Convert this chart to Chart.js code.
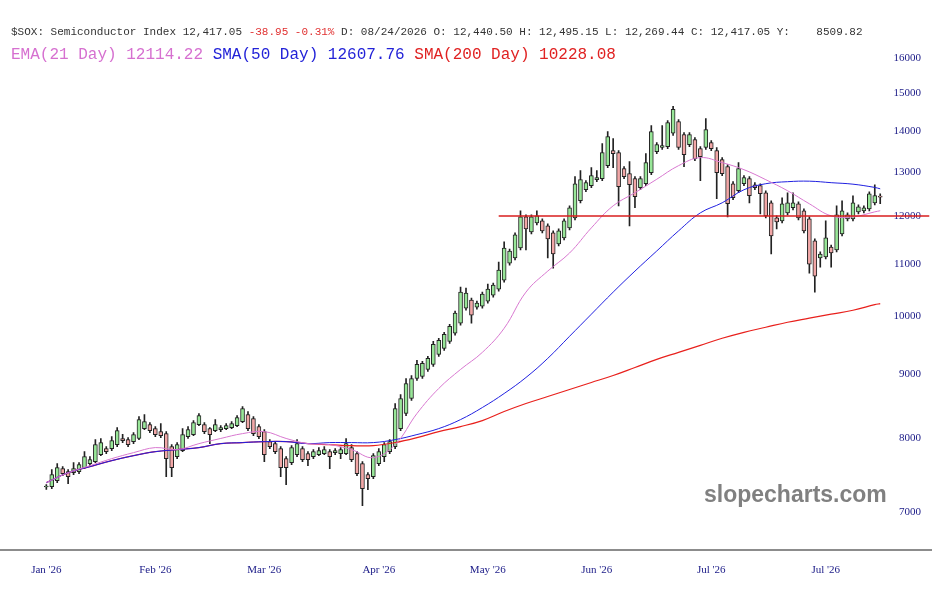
<!DOCTYPE html>
<html>
<head>
<meta charset="utf-8">
<script src="https://cdn.jsdelivr.net/npm/chart.js@4.4.1/dist/chart.umd.min.js"></script>
<style>
  html, body { margin: 0; padding: 0; background: #fff; }
  #wrap { position: relative; width: 932px; height: 589px; }
  #hdr1 { position: absolute; left: 11px; top: 26px; font: 11px "Liberation Mono", monospace; color: #333; white-space: pre; }
  #hdr2 { position: absolute; left: 11px; top: 46px; font: 16px "Liberation Mono", monospace; white-space: pre; }
  #mark { position: absolute; left: 704px; top: 481px; font: bold 23px "Liberation Sans", sans-serif; color: #808080; }
</style>
</head>
<body>
<div id="wrap">
  <canvas id="myChart"></canvas>
  <div id="hdr1">$SOX: Semiconductor Index 12,417.05 <span style="color:#e03030">-38.95 -0.31%</span> D: 08/24/2026 O: 12,440.50 H: 12,495.15 L: 12,269.44 C: 12,417.05 Y:    8509.82</div>
  <div id="hdr2"><span style="color:#d670d0">EMA(21 Day) 12114.22</span> <span style="color:#2323d8">SMA(50 Day) 12607.76</span> <span style="color:#e02222">SMA(200 Day) 10228.08</span></div>
  <div id="mark">slopecharts.com</div>
</div>
<script>
// daily candles, Jan .. Aug 24 2026
const opens = [7325,7327,7408,7572,7530,7517,7530,7586,7641,7669,7767,7853,7853,7911,8000,7983,7954,8000,8145,8205,
  8145,8101,8071,7882,7739,7824,8027,8057,8205,8205,8145,8116,8130,8145,8160,8190,8250,8356,8296,8175,
  8101,7954,7925,7853,7711,7655,7767,7853,7781,7739,7767,7781,7810,7796,7781,7781,7868,7781,7641,7489,
  7462,7641,7739,7810,7882,8145,8372,8604,8924,8957,9072,9156,9324,9428,9549,9690,9869,10143,10293,10161,
  10180,10274,10387,10502,10677,11013,11115,11320,11980,11656,11850,11893,11785,11635,11403,11529,11742,11958,12336,12587,
  12680,12820,12843,13152,13518,13469,13080,12961,12843,12633,12726,12985,13494,13593,13617,13951,14254,13920,13667,13792,
  13568,13593,13717,13518,13297,13128,12726,12564,12726,12843,12703,12680,12518,12291,11958,11893,12068,12180,12269,12113,
  11937,11466,11115,11135,11340,11279,11614,11937,11937,12090,12113,12157,12291,12440.50];
const highs = [7355,7558,7641,7600,7558,7655,7655,7810,7739,7983,7998,7882,8027,8160,8060,8012,8085,8326,8356,8235,
  8175,8220,8101,7911,7940,8145,8175,8265,8372,8235,8160,8280,8190,8220,8250,8341,8479,8402,8326,8205,
  8130,7983,7954,7882,7739,7898,7983,7882,7810,7839,7868,7882,7839,7853,7868,8000,7911,7810,7669,7517,
  7781,7853,7940,7983,8526,8667,8924,8973,9223,9206,9290,9549,9602,9707,9851,10088,10541,10522,10330,10274,
  10445,10599,10618,11034,11445,11299,11635,12113,12024,12024,12113,11937,11828,11678,11721,11937,12224,12890,13032,12796,
  13104,13032,13692,13996,13818,13518,13128,13249,12890,12890,13444,14150,13717,14150,14280,14650,14306,13970,13970,13843,
  13617,14332,13767,13593,13346,13176,12773,13224,12914,12890,12750,12726,12564,12336,12002,12405,12518,12518,12313,12157,
  11980,11508,11238,11893,11382,12224,12336,12068,12450,12246,12224,12541,12703,12495.15];
const lows = [7290,7300,7380,7475,7367,7490,7503,7572,7613,7655,7753,7781,7824,7882,7940,7882,7925,7983,8130,8085,
  8027,8012,7462,7462,7711,7810,8000,8042,8190,8071,7925,8101,8101,8130,8145,8175,8235,8116,8042,7998,
  7669,7853,7781,7462,7354,7627,7739,7669,7613,7711,7753,7767,7572,7767,7711,7767,7669,7475,7077,7287,
  7434,7613,7669,7781,7853,8116,8341,8573,8891,8924,9039,9122,9290,9393,9514,9655,9833,10106,9869,10124,
  10143,10236,10349,10464,10638,10973,11075,11279,11279,11614,11807,11635,11115,10913,11361,11487,11700,11915,12291,12541,
  12633,12773,12796,13104,13104,12224,12843,11785,12180,12587,12680,12937,13444,13544,13568,13894,13544,13128,13617,13273,
  12796,13544,13518,12383,12914,11980,12360,12518,12680,12291,12587,12046,11958,11196,11721,11850,12024,12135,11915,11635,
  10813,10445,10933,11095,10933,11238,11571,11893,11893,12046,12068,12113,12246,12269.44];
const closes = [7335,7489,7586,7503,7462,7572,7627,7739,7697,7911,7940,7810,7969,8116,7969,7911,8057,8280,8250,8116,
  8057,8042,7711,7586,7911,8057,8130,8235,8341,8101,8057,8205,8160,8190,8220,8311,8448,8145,8071,8027,
  7767,7882,7810,7586,7586,7868,7925,7697,7697,7810,7824,7839,7739,7824,7839,7925,7697,7503,7300,7434,
  7753,7810,7911,7954,8448,8604,8842,8924,9156,9173,9257,9497,9567,9672,9815,10052,10445,10426,10015,10236,
  10407,10502,10580,10873,11320,11258,11592,11980,11721,11980,12002,11678,11508,11196,11678,11893,12180,12726,12820,12750,
  12914,12867,13469,13868,13444,12657,12890,12703,12427,12843,13224,13996,13667,13642,14228,14570,13593,13420,13920,13322,
  13371,14047,13568,12985,12961,12269,12405,13080,12867,12450,12633,12496,12002,11571,11871,12269,12291,12291,11958,11678,
  10993,10755,11196,11529,11217,12024,12113,12024,12291,12202,12180,12496,12456,12417.05];

// moving averages read at every 4th session
const maIdx = [0,4,8,12,16,20,24,28,32,36,40,44,48,52,56,60,64,68,72,76,80,84,88,92,96,100,104,108,112,116,120,124,128,132,136,140,144,148,152,153];
const ema21 = [7381,7516,7613,7711,7796,7868,7839,7925,8000,8071,8101,8000,7925,7911,7839,7725,7911,8372,8763,9072,
  9359,9779,10445,10853,11216,11742,12224,12518,12830,13152,13346,13224,13056,12820,12564,12269,12002,11980,12090,12114.22];
const sma50 = [7381,7516,7600,7683,7753,7810,7839,7868,7925,7940,7954,7954,7925,7940,7940,7940,7983,8057,8145,8280,
  8464,8683,8940,9257,9637,10033,10445,10853,11258,11678,12068,12291,12587,12726,12773,12785,12750,12715,12640,12607.76];
const sma200 = [7381,7516,7600,7683,7753,7810,7839,7868,7925,7940,7954,7954,7925,7911,7896,7896,7940,8012,8101,8175,
  8265,8402,8526,8635,8747,8859,8973,9105,9240,9359,9480,9602,9707,9797,9887,9960,10033,10106,10208,10228.08];

const levelValue = 12000;
const levelStart = 83;

const monthNames = ["Jan '26", "Feb '26", "Mar '26", "Apr '26", "May '26", "Jun '26", "Jul '26", "Jul '26"];
const monthIdx = [0, 20, 40, 61, 81, 101, 122, 143];
const yTicks = [7000, 8000, 9000, 10000, 11000, 12000, 13000, 14000, 15000, 16000];

const leadPad = 8;
const tailPad = 9;
const n = closes.length;

function pad(arr) {
  return [...Array(leadPad).fill(null), ...arr, ...Array(tailPad).fill(null)];
}
function sparse(idx, vals) {
  const out = Array(n).fill(null);
  for (let i = 0; i < idx.length; i++) {
    out[idx[i]] = vals[i];
  }
  return out;
}

let labels = [];
for (let i = 0; i < n + leadPad + tailPad; i++) {
  labels.push(i - leadPad);
}

let wicks = [];
let bodies = [];
let bodyColors = [];
for (let i = 0; i < n; i++) {
  wicks.push([lows[i], highs[i]]);
  bodies.push([opens[i], closes[i]]);
  bodyColors.push(closes[i] >= opens[i] ? '#98e698' : '#f2a7a7');
}

let level = [];
for (let i = 0; i < n + tailPad; i++) {
  level.push(i >= levelStart ? levelValue : null);
}

var ctx = document.getElementById('myChart').getContext('2d');
const chart = new Chart(ctx, {
  data: {
    labels: labels,
    datasets: [
      {
        type: 'line',
        data: [...Array(leadPad).fill(null), ...level],
        borderColor: '#d81e1e',
        borderWidth: 1.4,
        pointRadius: 0,
        order: 1
      },
      {
        type: 'line',
        data: pad(sparse(maIdx, ema21)),
        borderColor: '#d878d0',
        borderWidth: 1,
        pointRadius: 0,
        spanGaps: true,
        tension: 0.4,
        order: 1
      },
      {
        type: 'line',
        data: pad(sparse(maIdx, sma50)),
        borderColor: '#2020e0',
        borderWidth: 1,
        pointRadius: 0,
        spanGaps: true,
        tension: 0.4,
        order: 1
      },
      {
        type: 'line',
        data: pad(sparse(maIdx, sma200)),
        borderColor: '#e8201c',
        borderWidth: 1.2,
        pointRadius: 0,
        spanGaps: true,
        tension: 0.4,
        segment: {
          borderColor: (c) => c.p0DataIndex < leadPad + 48 ? '#c0184c' : undefined
        },
        order: 1
      },
      {
        type: 'bar',
        data: pad(bodies),
        backgroundColor: pad(bodyColors),
        borderColor: '#222',
        borderWidth: 1,
        borderSkipped: false,
        barThickness: 4,
        grouped: false,
        order: 2
      },
      {
        type: 'bar',
        data: pad(wicks),
        backgroundColor: '#222',
        barThickness: 1,
        grouped: false,
        order: 3
      }
    ]
  },
  options: {
    responsive: true,
    maintainAspectRatio: false,
    animation: false,
    layout: { padding: { left: 0, right: 0, top: 11, bottom: -2 } },
    plugins: { legend: { display: false }, tooltip: { enabled: false } },
    scales: {
      x: {
        type: 'category',
        offset: true,
        grid: { display: false, drawTicks: false },
        border: { display: true, color: '#8c8c8c', width: 2 },
        afterFit: (scale) => { scale.paddingLeft = 0; scale.paddingRight = 0; },
        ticks: {
          autoSkip: false,
          maxRotation: 0,
          padding: 14,
          color: '#20208a',
          font: { family: 'Liberation Serif', size: 11 },
          callback: function (value, index) {
            const k = monthIdx.indexOf(index - leadPad);
            return k >= 0 ? monthNames[k] : '';
          }
        }
      },
      y: {
        type: 'logarithmic',
        position: 'right',
        min: 6531,
        max: 17433,
        grid: { display: false, drawTicks: false },
        border: { display: false },
        afterBuildTicks: (axis) => { axis.ticks = yTicks.map(v => ({ value: v })); },
        afterFit: (scale) => { scale.width = 0; scale.paddingTop = 0; scale.paddingBottom = 0; },
        ticks: {
          mirror: true,
          padding: -11,
          color: '#20208a',
          font: { family: 'Liberation Serif', size: 11 },
          callback: (v) => String(v)
        }
      }
    }
  }
});
</script>
</body>
</html>
